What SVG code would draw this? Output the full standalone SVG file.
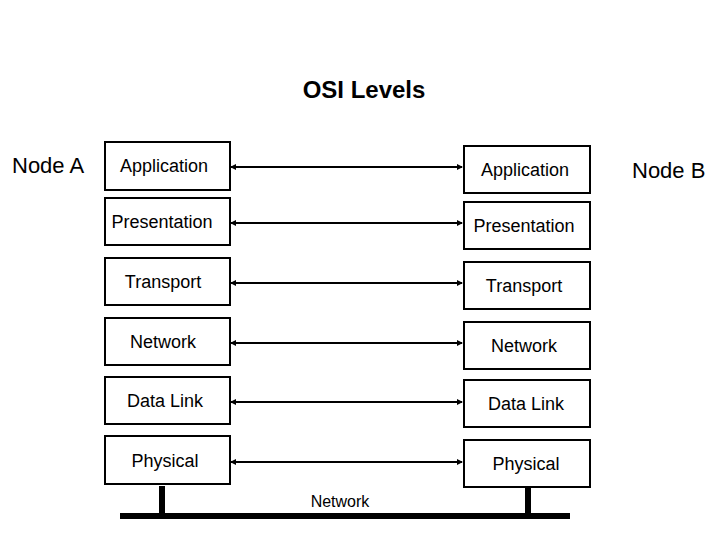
<svg xmlns="http://www.w3.org/2000/svg" width="720" height="540" viewBox="0 0 720 540">
<style>
text{font-family:"Liberation Sans",Arial,sans-serif;fill:#000}
.b{fill:#fff;stroke:#000;stroke-width:2}
.t{font-size:18px;text-anchor:middle}
.c{stroke:#000;stroke-width:2;fill:none;marker-start:url(#a);marker-end:url(#a)}
</style>
<defs><marker id="a" viewBox="0 0 6 6" refX="5" refY="3" markerWidth="3" markerHeight="3" orient="auto-start-reverse"><path d="M0,0L6,3L0,6z" fill="#000"/></marker></defs>
<rect width="720" height="540" fill="#fff"/>
<text x="364" y="98" font-size="24" font-weight="bold" text-anchor="middle">OSI Levels</text>
<text x="12" y="173" font-size="22">Node A</text>
<text x="632" y="178" font-size="22">Node B</text>
<g id="connectors">
<line class="c" x1="231" y1="167" x2="462" y2="167"/>
<line class="c" x1="231" y1="223" x2="462" y2="223"/>
<line class="c" x1="231" y1="283" x2="462" y2="283"/>
<line class="c" x1="231" y1="343" x2="462" y2="343"/>
<line class="c" x1="231" y1="402" x2="462" y2="402"/>
<line class="c" x1="231" y1="462" x2="462" y2="462"/>
</g>
<g id="A-app"><rect class="b" x="105" y="142" width="125" height="48"/><text class="t" x="164" y="172">Application</text></g>
<g id="A-pres"><rect class="b" x="105" y="198" width="125" height="47"/><text class="t" x="162" y="228">Presentation</text></g>
<g id="A-trans"><rect class="b" x="105" y="258" width="125" height="47"/><text class="t" x="163" y="288">Transport</text></g>
<g id="A-net"><rect class="b" x="105" y="318" width="125" height="47"/><text class="t" x="163" y="348">Network</text></g>
<g id="A-dl"><rect class="b" x="105" y="377" width="125" height="47"/><text class="t" x="165" y="407">Data Link</text></g>
<g id="A-phy"><rect class="b" x="105" y="436" width="125" height="48"/><text class="t" x="165" y="467">Physical</text></g>
<g id="B-app"><rect class="b" x="464" y="146" width="126" height="47"/><text class="t" x="525" y="176">Application</text></g>
<g id="B-pres"><rect class="b" x="464" y="202" width="126" height="47"/><text class="t" x="524" y="232">Presentation</text></g>
<g id="B-trans"><rect class="b" x="464" y="262" width="126" height="47"/><text class="t" x="524" y="292">Transport</text></g>
<g id="B-net"><rect class="b" x="464" y="322" width="126" height="47"/><text class="t" x="524" y="352">Network</text></g>
<g id="B-dl"><rect class="b" x="464" y="380" width="126" height="47"/><text class="t" x="526" y="410">Data Link</text></g>
<g id="B-phy"><rect class="b" x="464" y="440" width="126" height="47"/><text class="t" x="526" y="470">Physical</text></g>
<g id="bus">
<rect x="159" y="486" width="6" height="30" fill="#000"/>
<rect x="525" y="488" width="6" height="28" fill="#000"/>
<rect x="120" y="513" width="450" height="6" fill="#000"/>
<text x="340" y="507" font-size="16" text-anchor="middle">Network</text>
</g>
</svg>
